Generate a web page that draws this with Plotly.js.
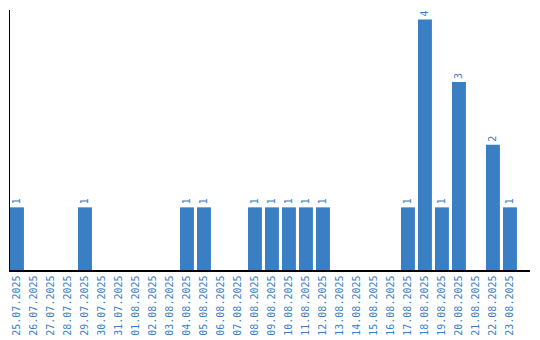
<!DOCTYPE html>
<html><head><meta charset="utf-8">
<script src="https://cdn.plot.ly/plotly-3.0.1.min.js"></script>
<style>html,body{margin:0;padding:0;background:#fff}#c{width:540px;height:340px}</style>
</head><body><div id="c"></div>
<script>
const dates = ["25.07.2025","26.07.2025","27.07.2025","28.07.2025","29.07.2025","30.07.2025","31.07.2025","01.08.2025","02.08.2025","03.08.2025","04.08.2025","05.08.2025","06.08.2025","07.08.2025","08.08.2025","09.08.2025","10.08.2025","11.08.2025","12.08.2025","13.08.2025","14.08.2025","15.08.2025","16.08.2025","17.08.2025","18.08.2025","19.08.2025","20.08.2025","21.08.2025","22.08.2025","23.08.2025"];
const counts = [1,0,0,0,1,0,0,0,0,0,1,1,0,0,1,1,1,1,1,0,0,0,0,1,4,1,3,0,2,1];
const labels = counts.map(v => v > 0 ? String(v) : "");
const blue = "#3a7ec3";
Plotly.newPlot("c", [{
  type: "bar", x: dates, y: counts, text: labels, textposition: "outside",
  textangle: -90, cliponaxis: false,
  textfont: {family: "DejaVu Sans Mono", size: 10, color: blue},
  marker: {color: blue}, width: 0.82, hoverinfo: "none"
}], {
  width: 540, height: 340,
  margin: {l: 10, r: 10, t: 10, b: 70, pad: 0},
  paper_bgcolor: "#fff", plot_bgcolor: "#fff",
  showlegend: false,
  bargap: 0.18,
  xaxis: {type: "category", range: [-0.41, 30.18], tickangle: -90, showgrid: false,
    showline: true, linecolor: "#000", linewidth: 1.5, ticks: "", ticklen: 0,
    tickfont: {family: "DejaVu Sans Mono", size: 10, color: blue}, fixedrange: true, zeroline: false},
  yaxis: {range: [0, 4.15], showgrid: false, showline: true, linecolor: "#000", linewidth: 1.5,
    showticklabels: false, ticks: "", zeroline: false, fixedrange: true}
}, {displayModeBar: false, staticPlot: true});
</script></body></html>
